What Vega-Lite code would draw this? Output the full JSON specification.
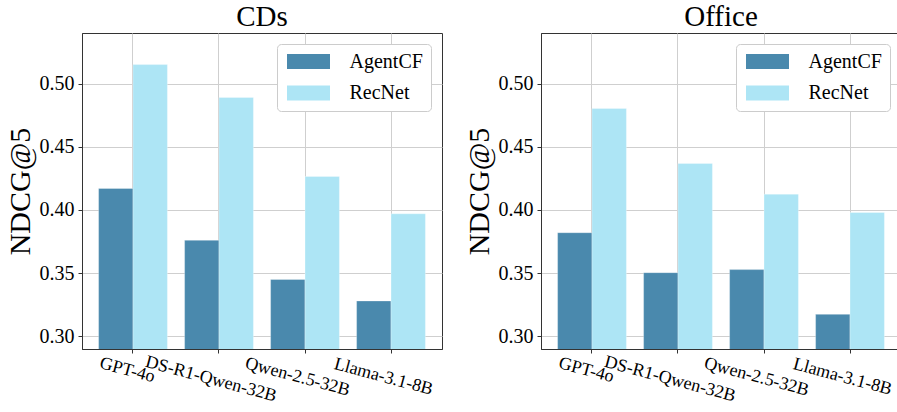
{
  "$schema": "https://vega.github.io/schema/vega-lite/v6.json",
  "padding": {"left": 4, "top": 2, "right": 0, "bottom": 0},
  "background": "white",
  "data": {
    "values": [
      {"dataset": "CDs", "model": "GPT-4o", "method": "AgentCF", "value": 0.417},
      {"dataset": "CDs", "model": "GPT-4o", "method": "RecNet", "value": 0.515},
      {"dataset": "CDs", "model": "DS-R1-Qwen-32B", "method": "AgentCF", "value": 0.376},
      {"dataset": "CDs", "model": "DS-R1-Qwen-32B", "method": "RecNet", "value": 0.489},
      {"dataset": "CDs", "model": "Qwen-2.5-32B", "method": "AgentCF", "value": 0.345},
      {"dataset": "CDs", "model": "Qwen-2.5-32B", "method": "RecNet", "value": 0.4265},
      {"dataset": "CDs", "model": "Llama-3.1-8B", "method": "AgentCF", "value": 0.328},
      {"dataset": "CDs", "model": "Llama-3.1-8B", "method": "RecNet", "value": 0.397},
      {"dataset": "Office", "model": "GPT-4o", "method": "AgentCF", "value": 0.382},
      {"dataset": "Office", "model": "GPT-4o", "method": "RecNet", "value": 0.4803},
      {"dataset": "Office", "model": "DS-R1-Qwen-32B", "method": "AgentCF", "value": 0.3504},
      {"dataset": "Office", "model": "DS-R1-Qwen-32B", "method": "RecNet", "value": 0.4368},
      {"dataset": "Office", "model": "Qwen-2.5-32B", "method": "AgentCF", "value": 0.3528},
      {"dataset": "Office", "model": "Qwen-2.5-32B", "method": "RecNet", "value": 0.4125},
      {"dataset": "Office", "model": "Llama-3.1-8B", "method": "AgentCF", "value": 0.3174},
      {"dataset": "Office", "model": "Llama-3.1-8B", "method": "RecNet", "value": 0.398}
    ]
  },
  "spacing": 20,
  "resolve": {"legend": {"color": "independent"}},
  "hconcat": [
    {
      "transform": [{"filter": "datum.dataset === 'CDs'"}],
      "title": "CDs",
      "width": 360,
      "height": 316,
      "layer": [
        {
          "mark": {"type": "bar", "clip": true, "stroke": "white", "strokeWidth": 0.6, "strokeOpacity": 0.5},
          "encoding": {
            "x": {"field": "model", "type": "nominal", "sort": ["GPT-4o", "DS-R1-Qwen-32B", "Qwen-2.5-32B", "Llama-3.1-8B"],
                  "scale": {"paddingInner": 0.2, "paddingOuter": 0.193},
                  "axis": {"title": null, "labels": false}},
            "xOffset": {"field": "method", "type": "nominal", "sort": ["AgentCF", "RecNet"], "scale": {"paddingInner": 0, "paddingOuter": 0}},
            "y": {"field": "value", "type": "quantitative", "scale": {"domain": [0.29, 0.54], "zero": false, "nice": false},
                  "axis": {"title": "NDCG@5", "values": [0.30, 0.35, 0.40, 0.45, 0.50], "format": ".2f"}},
            "color": {"field": "method", "type": "nominal", "scale": {"domain": ["AgentCF", "RecNet"], "range": ["#4a89ad", "#ade5f5"]},
                      "legend": {"title": null}}
          }
        },
        {
          "transform": [{"filter": "datum.method === 'AgentCF'"}],
          "mark": {"type": "text", "font": "Liberation Serif", "fontSize": 18, "angle": 15, "align": "center", "baseline": "middle", "color": "black",
                   "dy": {"expr": "15 + 1.165*length(datum.model)"}},
          "encoding": {
            "x": {"field": "model", "type": "nominal", "sort": ["GPT-4o", "DS-R1-Qwen-32B", "Qwen-2.5-32B", "Llama-3.1-8B"]},
            "y": {"datum": 0.29, "type": "quantitative"},
            "text": {"field": "model", "type": "nominal"}
          }
        }
      ]
    },
    {
      "transform": [{"filter": "datum.dataset === 'Office'"}],
      "title": "Office",
      "width": 360,
      "height": 316,
      "layer": [
        {
          "mark": {"type": "bar", "clip": true, "stroke": "white", "strokeWidth": 0.6, "strokeOpacity": 0.5},
          "encoding": {
            "x": {"field": "model", "type": "nominal", "sort": ["GPT-4o", "DS-R1-Qwen-32B", "Qwen-2.5-32B", "Llama-3.1-8B"],
                  "scale": {"paddingInner": 0.2, "paddingOuter": 0.193},
                  "axis": {"title": null, "labels": false}},
            "xOffset": {"field": "method", "type": "nominal", "sort": ["AgentCF", "RecNet"], "scale": {"paddingInner": 0, "paddingOuter": 0}},
            "y": {"field": "value", "type": "quantitative", "scale": {"domain": [0.29, 0.54], "zero": false, "nice": false},
                  "axis": {"title": "NDCG@5", "values": [0.30, 0.35, 0.40, 0.45, 0.50], "format": ".2f"}},
            "color": {"field": "method", "type": "nominal", "scale": {"domain": ["AgentCF", "RecNet"], "range": ["#4a89ad", "#ade5f5"]},
                      "legend": {"title": null}}
          }
        },
        {
          "transform": [{"filter": "datum.method === 'AgentCF'"}],
          "mark": {"type": "text", "font": "Liberation Serif", "fontSize": 18, "angle": 15, "align": "center", "baseline": "middle", "color": "black",
                   "dy": {"expr": "15 + 1.165*length(datum.model)"}},
          "encoding": {
            "x": {"field": "model", "type": "nominal", "sort": ["GPT-4o", "DS-R1-Qwen-32B", "Qwen-2.5-32B", "Llama-3.1-8B"]},
            "y": {"datum": 0.29, "type": "quantitative"},
            "text": {"field": "model", "type": "nominal"}
          }
        }
      ]
    }
  ],
  "config": {
    "font": "Liberation Serif",
    "view": {"stroke": "#333333", "strokeWidth": 1},
    "title": {"font": "Liberation Serif", "fontSize": 29, "fontWeight": "normal", "color": "black", "offset": 1, "anchor": "middle"},
    "axis": {
      "labelFont": "Liberation Serif",
      "titleFont": "Liberation Serif",
      "grid": true,
      "gridColor": "#cfcfcf",
      "gridWidth": 1,
      "domainColor": "#333333",
      "tickColor": "#333333",
      "tickSize": 4,
      "labelPadding": 4,
      "labelColor": "black",
      "titleColor": "black",
      "titleFontWeight": "normal"
    },
    "axisY": {"labelFontSize": 20, "titleFontSize": 30, "titlePadding": 4},
    "axisX": {"bandPosition": 0.5},
    "legend": {
      "orient": "top-right",
      "offset": 11,
      "fillColor": "white",
      "strokeColor": "#cccccc",
      "cornerRadius": 4,
      "padding": 7.5,
      "symbolType": "M-1,-1H4.733V1H-1Z",
      "symbolSize": 225,
      "symbolStrokeWidth": 0,
      "symbolOpacity": 1,
      "labelFont": "Liberation Serif",
      "labelFontSize": 20,
      "labelColor": "black",
      "labelOffset": 45,
      "rowPadding": 11.5
    }
  }
}
